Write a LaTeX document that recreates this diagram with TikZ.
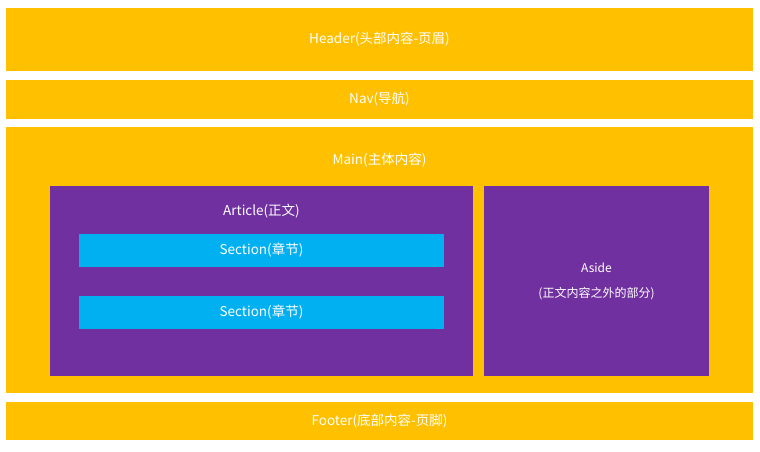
\documentclass[tikz,border=0pt]{standalone}
\usepackage{fontspec}
\setmainfont{Noto Sans CJK SC}
\definecolor{orng}{HTML}{FFC000}
\definecolor{purp}{HTML}{7030A0}
\definecolor{blu}{HTML}{00B0F0}
\begin{document}
\begin{tikzpicture}[x=1pt,y=-1pt,
  box/.style={inner sep=0pt,text=white,font=\fontsize{13.5}{17}\selectfont,align=center,draw=none},
  lbl/.style={text=white,font=\fontsize{13.5}{17}\selectfont,align=center,inner sep=0pt}]
\useasboundingbox[fill=white] (0,0) rectangle (760,452);
\node[box,fill=orng,minimum width=747pt,minimum height=63pt] (header) at (379.5,39.5) {Header(头部内容-页眉)};
\node[box,fill=orng,minimum width=747pt,minimum height=39pt] (nav) at (379.5,99.5) {Nav(导航)};
\node[box,fill=orng,minimum width=747pt,minimum height=266pt] (main) at (379.5,260) {};
\node[lbl] (maint) at (379.5,160) {Main(主体内容)};
\node[box,fill=purp,minimum width=423pt,minimum height=190pt] (article) at (261.5,281) {};
\node[lbl] (artt) at (261.5,211) {Article(正文)};
\node[box,fill=blu,minimum width=365pt,minimum height=33pt] (sec1) at (261.5,250.5) {Section(章节)};
\node[box,fill=blu,minimum width=365pt,minimum height=33pt] (sec2) at (261.5,312.5) {Section(章节)};
\node[box,fill=purp,minimum width=225pt,minimum height=190pt,font=\fontsize{12}{25}\selectfont] (aside) at (596.5,281) {Aside\\(正文内容之外的部分)};
\node[box,fill=orng,minimum width=747pt,minimum height=38pt] (footer) at (379.5,421) {Footer(底部内容-页脚)};
\end{tikzpicture}
\end{document}
